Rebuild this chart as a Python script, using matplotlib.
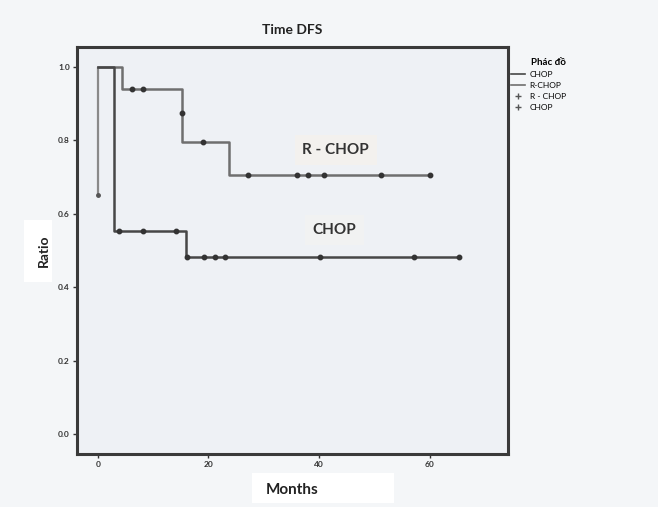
import matplotlib
matplotlib.use("Agg")
import matplotlib.pyplot as plt
from matplotlib.lines import Line2D
from matplotlib.patches import Rectangle

plt.rcParams['font.family'] = ['Lato', 'DejaVu Sans']

# ---- data ----
rchop_times = [0.0, 4.3, 15.2, 15.2, 23.8, 60.0]
rchop_surv = [1.0, 0.94, 0.874, 0.795, 0.705, 0.705]
rchop_cens_t = [6.1, 8.1, 15.2, 19.1, 27.2, 36.0, 38.0, 40.9, 51.2, 60.0]
rchop_cens_s = [0.94, 0.94, 0.874, 0.795, 0.705, 0.705, 0.705, 0.705, 0.705, 0.705]

chop_times = [0.0, 2.9, 15.9, 65.2]
chop_surv = [1.0, 0.553, 0.481, 0.481]
chop_cens_t = [3.8, 8.1, 14.1, 16.1, 19.2, 21.1, 22.9, 40.1, 57.2, 65.2]
chop_cens_s = [0.553, 0.553, 0.553, 0.481, 0.481, 0.481, 0.481, 0.481, 0.481, 0.481]

stray_x = [0.0, 0.0]
stray_y = [1.0, 0.65]

x_ticks = [0, 20, 40, 60]
x_ticklabels = ["0", "20", "40", "60"]
y_ticks = [0.0, 0.2, 0.4, 0.6, 0.8, 1.0]
y_ticklabels = ["0.0", "0.2", "0.4", "0.6", "0.8", "1.0"]

W, H = 658, 507
fig = plt.figure(figsize=(6.58, 5.07), dpi=100, facecolor="#f4f6f8")

# white label backgrounds (figure pixels -> fractions), drawn beneath the axes
fig.patches.append(Rectangle((252 / W, 1 - 503 / H), 142 / W, 30 / H,
                             transform=fig.transFigure, fc="white", ec="none", zorder=-5))
fig.patches.append(Rectangle((24 / W, 1 - 282 / H), 28 / W, 62 / H,
                             transform=fig.transFigure, fc="white", ec="none", zorder=-5))

ax = fig.add_axes([0.1167, 0.1045, 0.655, 0.8035])
ax.set_facecolor("#eef1f5")

c_r = "#6f6f6f"
c_c = "#474747"

ax.plot(stray_x, stray_y, color="#8a8a8a", lw=1.6, solid_capstyle="butt")
ax.plot(stray_x[1:], stray_y[1:], ls="none", marker="o", ms=2.5, color="#555555")

ax.step(rchop_times, rchop_surv, where="post", color=c_r, lw=1.8)
ax.step(chop_times, chop_surv, where="post", color=c_c, lw=1.8)
ax.plot(rchop_cens_t, rchop_cens_s, ls="none", marker="o", ms=3.2, color="#333333")
ax.plot(chop_cens_t, chop_cens_s, ls="none", marker="o", ms=3.2, color="#333333")

ax.set_xlim(-3.8, 74.1)
ax.set_ylim(-0.054, 1.055)
ax.set_xticks(x_ticks)
ax.set_xticklabels(x_ticklabels, fontsize=6, fontweight="bold", color="#333333")
ax.set_yticks(y_ticks)
ax.set_yticklabels(y_ticklabels, fontsize=6, fontweight="bold", color="#333333")
ax.tick_params(length=3, width=1, color="#333333", pad=2)
for s in ax.spines.values():
    s.set_linewidth(2.2)
    s.set_color("#3a3a3a")

ax.set_title("Time DFS", fontsize=10, fontweight="bold", color="#222222", pad=9)
ax.set_xlabel("Months", fontsize=11, fontweight="bold", color="#222222", labelpad=11)
ax.set_ylabel("Ratio", fontsize=10, fontweight="bold", color="#222222", labelpad=6)

ax.text(43.0, 0.774, "R - CHOP", fontsize=11, fontweight="bold", color="#333333",
        ha="center", va="center",
        bbox=dict(boxstyle="square,pad=0.5", fc="#f3f1ee", ec="none"))
ax.text(42.7, 0.556, "CHOP", fontsize=11, fontweight="bold", color="#333333",
        ha="center", va="center",
        bbox=dict(boxstyle="square,pad=0.5", fc="#f1f2f2", ec="none"))

handles = [
    Line2D([], [], color=c_c, lw=1.2),
    Line2D([], [], color=c_r, lw=1.2),
    Line2D([], [], ls="none", marker="+", ms=4, color="#555555"),
    Line2D([], [], ls="none", marker="+", ms=4, color="#555555"),
]
labels = ["CHOP", "R-CHOP", "R - CHOP", "CHOP"]
leg = fig.legend(handles, labels, title="Phác đồ", loc="upper left",
                 bbox_to_anchor=(0.772, 0.893), frameon=False, fontsize=6,
                 title_fontsize=7, handlelength=1.6, handletextpad=0.6,
                 labelspacing=0.5, borderaxespad=0)
leg.get_title().set_fontweight("bold")
leg._legend_box.align = "right"

fig.savefig("out.png", dpi=100, facecolor=fig.get_facecolor())
